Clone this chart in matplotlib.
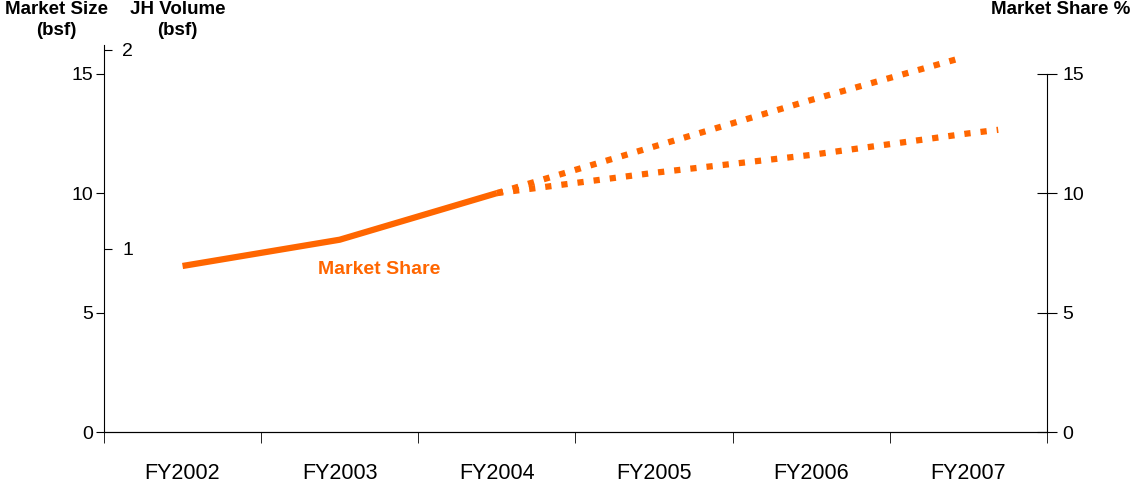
import numpy as np
import matplotlib.pyplot as plt

plt.rcParams['font.family'] = ['Liberation Sans', 'DejaVu Sans']

# data
years = ['FY2002', 'FY2003', 'FY2004', 'FY2005', 'FY2006', 'FY2007']
actual_x = [0, 1, 2]
actual_share = [6.95, 8.05, 10.0]
high_x = [2, 3, 4, 4.95]
high_share = [10.0, 11.95, 13.9, 15.65]
low_x = [2, 3, 4, 5, 5.19]
low_share = [10.0, 10.85, 11.6, 12.5, 12.65]

orange = '#FF6600'

fig = plt.figure(figsize=(11.3, 4.84), dpi=100)
ax = fig.add_axes([0.092, 0.1074, 0.8345, 0.7996])

# left axis: market size
ax.set_xlim(-0.5, 5.5)
ax.set_ylim(0, 16.2)
ax.set_yticks([0, 5, 10, 15])
ax.tick_params(axis='y', direction='out', length=6, labelsize=14, pad=2)
ax.spines['top'].set_visible(False)
ax.spines['right'].set_visible(False)

# x axis: ticks between categories, labels centred
ax.set_xticks(np.arange(len(years)))
ax.set_xticklabels(years)
ax.set_xticks(np.arange(len(years) + 1) - 0.5, minor=True)
ax.tick_params(axis='x', which='major', length=0, labelsize=15.5, pad=22)
ax.tick_params(axis='x', which='minor', direction='out', length=8)

# inner axis: JH volume
ax_jh = ax.twinx()
ax_jh.set_ylim(0.08, 2.025)
ax_jh.set_yticks([1, 2])
ax_jh.yaxis.tick_left()
ax_jh.tick_params(axis='y', direction='in', length=6, labelsize=14, pad=-21)
for s in ax_jh.spines.values():
    s.set_visible(False)

# right axis: market share %
ax_r = ax.twinx()
ax_r.set_ylim(0, 16.2)
ax_r.set_yticks([0, 5, 10, 15])
ax_r.tick_params(axis='y', direction='inout', length=14, labelsize=14, pad=4)
ax_r.spines['top'].set_visible(False)
ax_r.spines['left'].set_visible(False)
ax_r.spines['right'].set_bounds(0, 15)

ax_r.plot(actual_x, actual_share, color=orange, lw=4.5, solid_capstyle='butt')
ax_r.plot(high_x, high_share, color=orange, lw=4.5, linestyle=(0, (1, 1.6)), dash_capstyle='butt')
ax_r.plot(low_x, low_share, color=orange, lw=4.5, linestyle=(0, (1, 1.6)), dash_capstyle='butt')

ax_r.text(1.25, 6.8, 'Market Share', color=orange, fontsize=14, fontweight='bold',
          ha='center', va='center')

fig.text(0.050, 0.998, 'Market Size\n(bsf)', ha='center', va='top', fontsize=13.5,
         fontweight='bold', linespacing=1.3)
fig.text(0.157, 0.998, 'JH Volume\n(bsf)', ha='center', va='top', fontsize=13.5,
         fontweight='bold', linespacing=1.3)
fig.text(0.877, 0.998, 'Market Share %', ha='left', va='top', fontsize=13.5,
         fontweight='bold')

fig.savefig('out.png', dpi=100)
